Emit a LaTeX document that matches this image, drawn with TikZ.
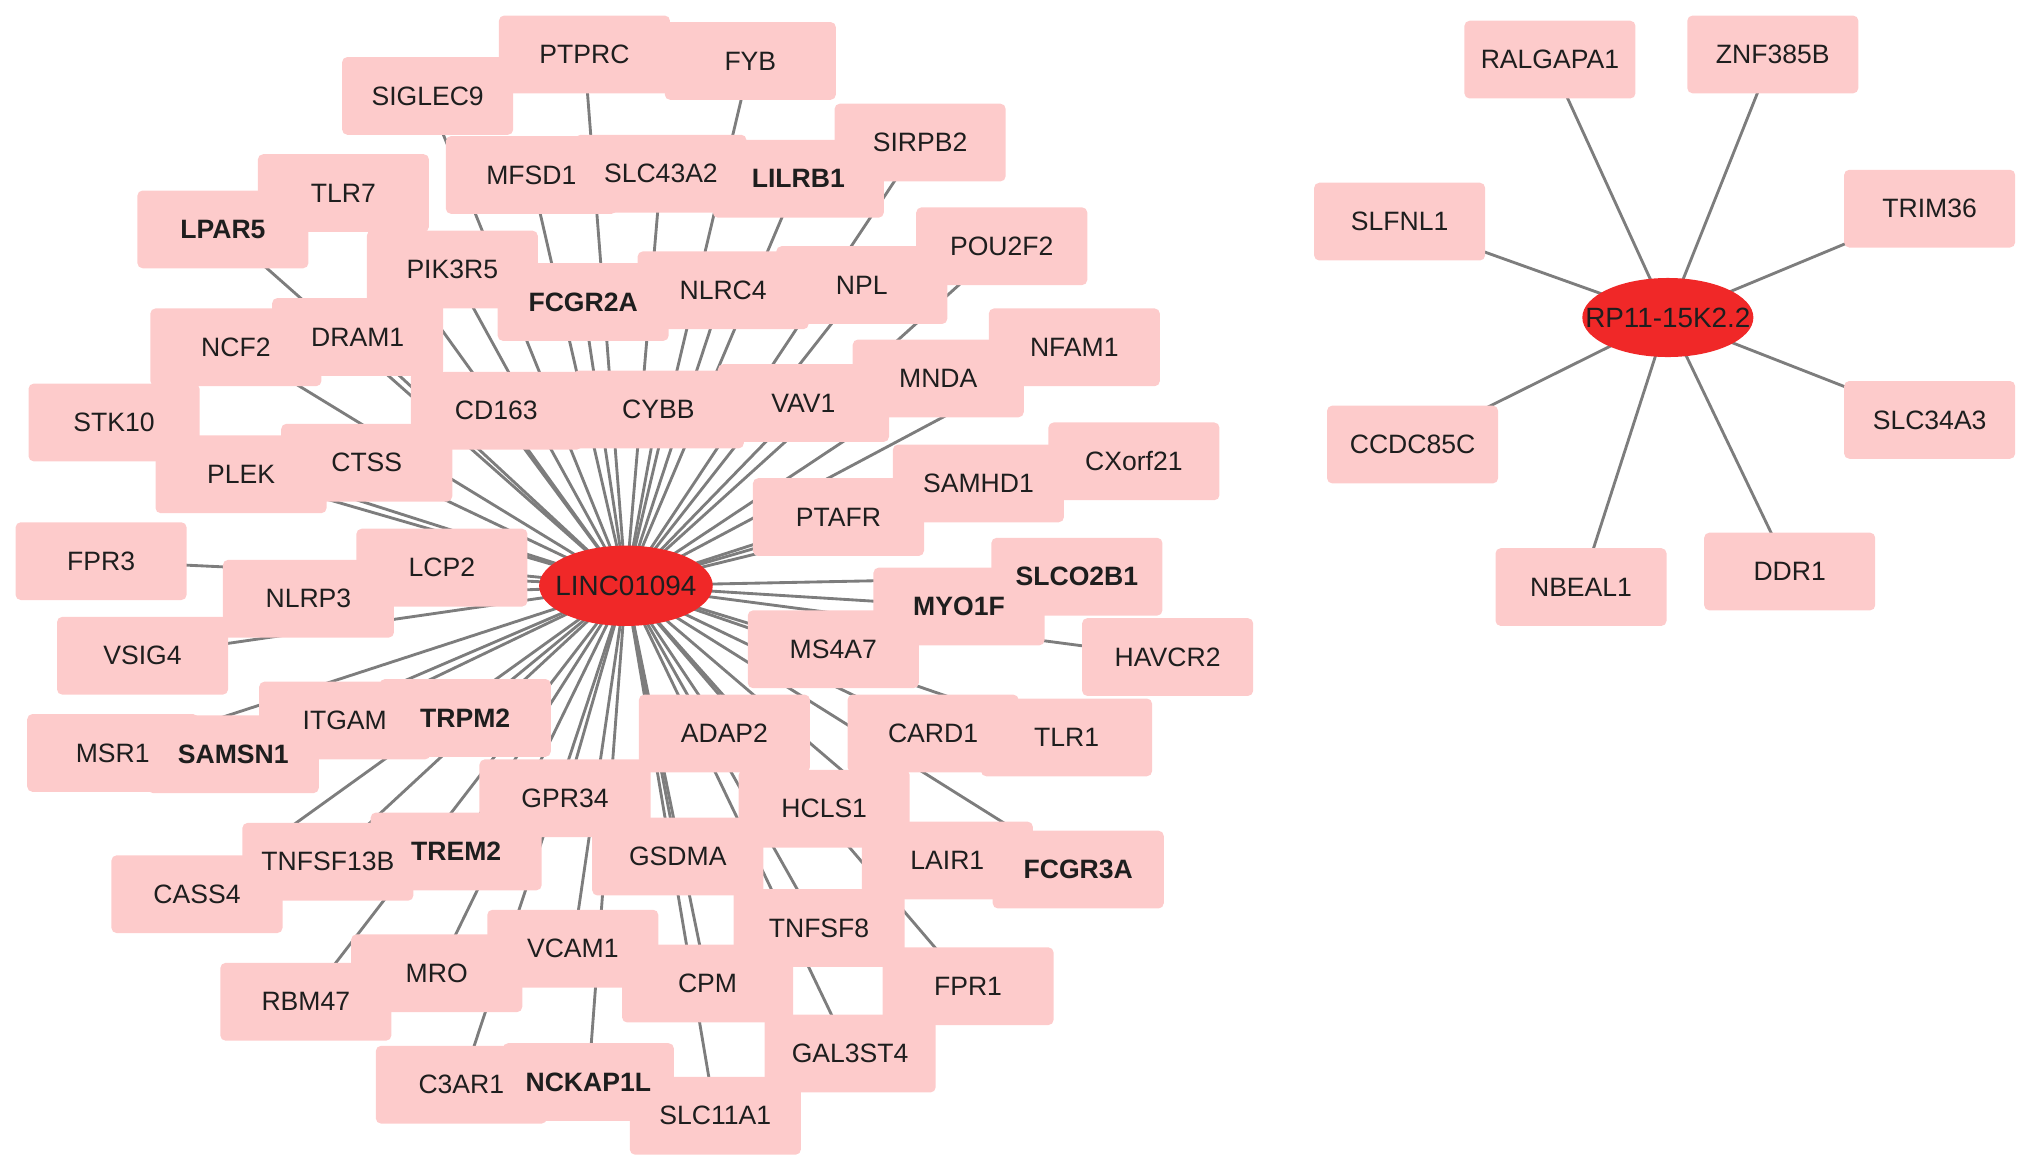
\documentclass[tikz,border=0pt]{standalone}
\usepackage{fontspec}
\setmainfont{Liberation Sans}
\usetikzlibrary{shapes.geometric,backgrounds}
\definecolor{boxpink}{RGB}{253,203,203}
\definecolor{hubred}{RGB}{240,40,40}
\definecolor{edgegray}{RGB}{125,125,125}
\definecolor{txt}{RGB}{30,30,30}
\begin{document}
\begin{tikzpicture}[x=1pt,y=-1pt,
 gbox/.style={rectangle, rounded corners=4pt, fill=boxpink, minimum width=132pt, minimum height=60pt, inner sep=0pt, outer sep=0pt},
 hub/.style={ellipse, fill=hubred, minimum width=134pt, minimum height=62pt, inner sep=0pt, font=\fontsize{21.5}{24}\selectfont, text=txt},
 gtext/.style={font=\fontsize{20.5}{24}\selectfont, text=txt, inner sep=0pt},
 gbold/.style={font=\fontsize{20.5}{24}\selectfont\bfseries, text=txt, inner sep=0pt},
 edge/.style={draw=edgegray, line width=2.2pt}]
\path[use as bounding box] (0,0) rectangle (1568,903);
% ---- boxes
\foreach \n/\x/\y in {
 ptprc/451/42, fyb/579/47, siglec/330/74, sirpb/710/110, mfsd/410/135, slc43/510/134,
 lilrb/616/138, tlr7/265/149, lpar/172/177, pou/773/190, pik/349/208, fcgr2a/450/233,
 nlrc/558/224, npl/665/220, dram/276/260, ncf/182/268, nfam/829/268, mnda/724/292,
 stk/88/326, cd163/383/317, cybb/508/316, vav/620/311, ctss/283/357, plek/186/366,
 cxorf/875/356, samhd/755/373, ptafr/647/399, fpr3/78/433, lcp/341/438, nlrp/238/462,
 slco/831/445, myo/740/468, ms4a/643/501, havcr/901/507, vsig/110/506, itgam/266/556,
 trpm/359/554, msr/87/581, samsn/180/582, adap/559/566, card/720/566, tlr1/823/569,
 gpr/436/616, hcls/636/624, tnfsf13/253/665, trem/352/657, gsdma/523/661, lair/731/664,
 fcgr3a/832/671, cass/152/690, tnfsf8/632/716, vcam/442/732, mro/337/751, cpm/546/759,
 fpr1/747/761, rbm/236/773, gal/656/813, c3ar/356/837, nckap/454/835, slc11/552/861,
 ralgapa/1196/46, znf/1368/42, slfnl/1080/171, trim/1489/161, ccdc/1090/343,
 slc34/1489/324, nbeal/1220/453, ddr/1381/441}
 \node[gbox] (\n) at (\x,\y) {};
% ---- hubs
\node[hub] (linc) at (483,452) {\makebox[0pt]{LINC01094}};
\node[hub, minimum width=132pt, minimum height=61pt] (rp) at (1287,245) {\makebox[0pt]{RP11-15K2.2}};
% ---- edges
\begin{scope}[on background layer]
\foreach \n in {ptprc, fyb, siglec, sirpb, mfsd, slc43, lilrb, tlr7, lpar, pou, pik, fcgr2a,
 nlrc, npl, dram, ncf, nfam, mnda, stk, cd163, cybb, vav, ctss, plek, cxorf, samhd, ptafr,
 fpr3, lcp, nlrp, slco, myo, ms4a, havcr, vsig, itgam, trpm, msr, samsn, adap, card, tlr1,
 gpr, hcls, tnfsf13, trem, gsdma, lair, fcgr3a, cass, tnfsf8, vcam, mro, cpm, fpr1, rbm,
 gal, c3ar, nckap, slc11}
 \draw[edge] (linc.center) -- (\n.center);
\foreach \n in {ralgapa, znf, slfnl, trim, ccdc, slc34, nbeal, ddr}
 \draw[edge] (rp.center) -- (\n.center);
\end{scope}
% ---- labels
\foreach \n/\t in {
 ptprc/PTPRC, fyb/FYB, siglec/SIGLEC9, sirpb/SIRPB2, mfsd/MFSD1, slc43/SLC43A2,
 tlr7/TLR7, pou/POU2F2, pik/PIK3R5, nlrc/NLRC4, npl/NPL, dram/DRAM1, ncf/NCF2,
 nfam/NFAM1, mnda/MNDA, stk/STK10, cd163/CD163, cybb/CYBB, vav/VAV1, ctss/CTSS,
 plek/PLEK, cxorf/CXorf21, samhd/SAMHD1, ptafr/PTAFR, fpr3/FPR3, lcp/LCP2, nlrp/NLRP3,
 ms4a/MS4A7, havcr/HAVCR2, vsig/VSIG4, itgam/ITGAM, msr/MSR1, adap/ADAP2, card/CARD1,
 tlr1/TLR1, gpr/GPR34, hcls/HCLS1, tnfsf13/TNFSF13B, gsdma/GSDMA, lair/LAIR1,
 cass/CASS4, tnfsf8/TNFSF8, vcam/VCAM1, mro/MRO, cpm/CPM, fpr1/FPR1, rbm/RBM47,
 gal/GAL3ST4, c3ar/C3AR1, slc11/SLC11A1,
 ralgapa/RALGAPA1, znf/ZNF385B, slfnl/SLFNL1, trim/TRIM36, ccdc/CCDC85C,
 slc34/SLC34A3, nbeal/NBEAL1, ddr/DDR1}
 \node[gtext] (\n-t) at (\n) {\t};
\foreach \n/\t in {lpar/LPAR5, fcgr2a/FCGR2A, lilrb/LILRB1, trpm/TRPM2, samsn/SAMSN1,
 myo/MYO1F, slco/SLCO2B1, trem/TREM2, fcgr3a/FCGR3A, nckap/NCKAP1L}
 \node[gbold] (\n-t) at (\n) {\t};
\end{tikzpicture}
\end{document}
